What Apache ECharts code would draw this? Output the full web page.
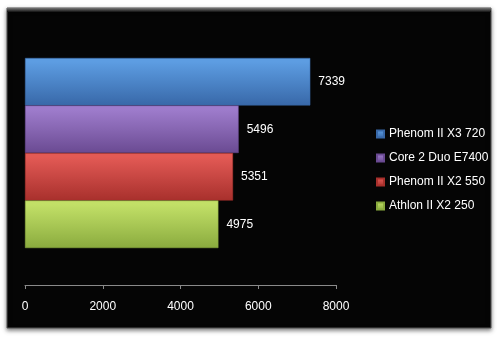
<!DOCTYPE html>
<html><head><meta charset="utf-8">
<script src="https://cdn.jsdelivr.net/npm/echarts@6/dist/echarts.min.js"></script>
<style>html,body{margin:0;padding:0;background:#fff}#c{width:497px;height:337px}</style>
</head><body><div id="c"></div>
<script>
const categories = ['Score'];
const seriesNames = ['Phenom II X3 720', 'Core 2 Duo E7400', 'Phenom II X2 550', 'Athlon II X2 250'];
const seriesValues = [[7339], [5496], [5351], [4975]];
const xTicks = [0, 2000, 4000, 6000, 8000];
const colorsTop = ['#5d9de2', '#9e7ccc', '#e35a55', '#c2e067'];
const colorsBot = ['#3868a8', '#6a4a92', '#a8302c', '#8aab3e'];

const chart = echarts.init(document.getElementById('c'));
const font = 'Liberation Sans, Arial, sans-serif';
chart.setOption({
  backgroundColor: '#fff',
  animation: false,
  graphic: [{
    type: 'rect', shape: {x: 7, y: 8, width: 484, height: 320},
    style: {fill: '#050505', stroke: '#555', lineWidth: 1, shadowBlur: 4, shadowColor: 'rgba(0,0,0,0.5)', shadowOffsetY: 2}, z: -10
  }, {
    type: 'rect', shape: {x: 7, y: 8, width: 484, height: 4},
    style: {fill: {type: 'linear', x: 0, y: 0, x2: 0, y2: 1, colorStops: [{offset: 0, color: '#777'}, {offset: 1, color: '#111'}]}}, z: -9
  }],
  grid: {left: 25, right: 161, top: 21, bottom: 52, containLabel: false},
  legend: {
    orient: 'vertical', left: 371, top: 123, itemWidth: 7, itemHeight: 7, itemGap: 12,
    icon: 'rect', data: seriesNames,
    textStyle: {color: '#fff', fontSize: 12, fontFamily: font, padding: [0, 0, 0, 0]}
  },
  xAxis: {
    type: 'value', min: 0, max: 8000, interval: 2000,
    splitLine: {show: false},
    axisLine: {show: true, lineStyle: {color: '#8a8a8a', width: 1}},
    axisTick: {show: true, length: 4, lineStyle: {color: '#8a8a8a'}},
    axisLabel: {color: '#fff', fontSize: 12, fontFamily: font, margin: 16,
      formatter: v => xTicks.includes(v) ? String(v) : ''}
  },
  yAxis: {
    type: 'category', data: categories, inverse: true,
    axisLine: {show: false}, axisTick: {show: false}, axisLabel: {show: false}
  },
  series: seriesNames.map((n, i) => ({
    name: n, type: 'bar', data: seriesValues[i], barGap: '0%', barCategoryGap: '28%',
    itemStyle: {
      color: {type: 'linear', x: 0, y: 0, x2: 0, y2: 1, colorStops: [
        {offset: 0, color: colorsTop[i]}, {offset: 0.08, color: colorsTop[i]},
        {offset: 0.5, color: echarts.color.lerp(0.45, [colorsTop[i], colorsBot[i]])},
        {offset: 1, color: colorsBot[i]}]},
      borderColor: colorsBot[i], borderWidth: 0.5
    },
    label: {show: true, position: 'right', distance: 8, color: '#fff', fontSize: 12, fontFamily: font}
  }))
});
</script></body></html>
